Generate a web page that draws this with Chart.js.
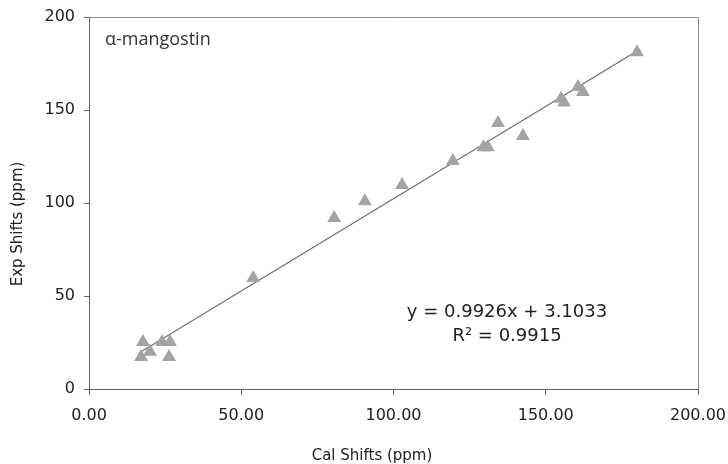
<!DOCTYPE html>
<html>
<head>
<meta charset="utf-8">
<script src="https://cdn.jsdelivr.net/npm/chart.js@4.4.1/dist/chart.umd.min.js"></script>
<style>
html,body{margin:0;padding:0;background:#fff;}
#wrap{width:728px;height:464px;position:relative;}
</style>
</head>
<body>
<div id="wrap"><canvas id="c" width="728" height="464"></canvas></div>
<script>
// Data
const calShifts = [17.1, 17.7, 20.0, 24.0, 26.6, 26.3, 53.9, 80.5, 90.6, 102.8, 119.5, 129.5, 131.0, 134.3, 142.5, 155.0, 156.0, 160.6, 162.2, 180.0];
const expShifts = [17.2, 25.3, 20.0, 25.3, 25.3, 17.2, 59.7, 92.0, 101.0, 109.7, 122.6, 130.0, 130.0, 143.0, 136.0, 156.0, 154.0, 162.4, 159.7, 181.0];
const xTicks = [0, 50, 100, 150, 200];
const yTicks = [0, 50, 100, 150, 200];
const fitSlope = 0.9926;
const fitIntercept = 3.1033;
const seriesLabel = 'α-mangostin';
const eqLine1 = 'y = 0.9926x + 3.1033';
const eqLine2 = 'R² = 0.9915';
const xTitle = 'Cal Shifts (ppm)';
const yTitle = 'Exp Shifts (ppm)';

const pts = calShifts.map((x, i) => ({x: x, y: expShifts[i]}));
const xMin = Math.min(...calShifts), xMax = Math.max(...calShifts);
const trend = [{x: xMin, y: fitSlope * xMin + fitIntercept}, {x: xMax, y: fitSlope * xMax + fitIntercept}];

const boxPlugin = {
  id: 'box',
  afterDraw(chart) {
    const ctx = chart.ctx, a = chart.chartArea;
    ctx.save();
    ctx.strokeStyle = '#8c8c8c';
    ctx.lineWidth = 1;
    ctx.beginPath();
    ctx.moveTo(a.left, a.top + 0.5);
    ctx.lineTo(a.right + 0.5, a.top + 0.5);
    ctx.lineTo(a.right + 0.5, a.bottom);
    ctx.stroke();
    // series label
    ctx.fillStyle = '#333';
    ctx.font = '18px "Open Sans", "Liberation Sans", sans-serif';
    ctx.textBaseline = 'middle';
    ctx.textAlign = 'left';
    ctx.fillText(seriesLabel, a.left + 16, a.top + 23);
    // equation
    ctx.font = '18px "DejaVu Sans", sans-serif';
    ctx.textAlign = 'center';
    ctx.fillStyle = '#222';
    ctx.fillText(eqLine1, a.left + 418, a.top + 295);
    ctx.fillText(eqLine2, a.left + 418, a.top + 319);
    // axis titles
    ctx.font = '15px "DejaVu Sans", sans-serif';
    ctx.fillStyle = '#222';
    ctx.fillText(xTitle, a.left + 283, chart.height - 8);
    ctx.save();
    ctx.translate(18, a.top + 207);
    ctx.rotate(-Math.PI / 2);
    ctx.fillText(yTitle, 0, 0);
    ctx.restore();
    ctx.restore();
  }
};

new Chart(document.getElementById('c'), {
  type: 'scatter',
  data: {
    datasets: [
      {
        data: trend,
        type: 'line',
        showLine: true,
        borderColor: '#6e6e6e',
        borderWidth: 1.2,
        pointRadius: 0,
        fill: false,
        order: 2
      },
      {
        data: pts,
        pointStyle: 'triangle',
        pointRadius: 8,
        pointBackgroundColor: '#a3a3a3',
        pointBorderColor: '#a3a3a3',
        pointBorderWidth: 0,
        order: 1
      }
    ]
  },
  options: {
    responsive: false,
    animation: false,
    devicePixelRatio: 1,
    layout: {padding: {left: 0, right: 30, top: 17, bottom: 0}},
    plugins: {legend: {display: false}, tooltip: {enabled: false}},
    scales: {
      x: {
        type: 'linear', min: 0, max: 200,
        afterBuildTicks: s => { s.ticks = xTicks.map(v => ({value: v})); },
        afterFit: s => { s.height = 75; s.paddingLeft = 0; s.paddingRight = 0; },
        ticks: {
          padding: 11,
          color: '#222',
          font: {family: '"DejaVu Sans", sans-serif', size: 16},
          callback: v => Number(v).toFixed(2),
          maxRotation: 0
        },
        grid: {drawOnChartArea: false, drawTicks: true, tickLength: 6, color: '#606060'},
        border: {display: true, color: '#606060', width: 1},
        title: {display: false}
      },
      y: {
        type: 'linear', min: 0, max: 200,
        afterBuildTicks: s => { s.ticks = yTicks.map(v => ({value: v})); },
        afterFit: s => { s.width = 89; s.paddingTop = 0; s.paddingBottom = 0; },
        ticks: {
          padding: 9,
          color: '#222',
          font: {family: '"DejaVu Sans", sans-serif', size: 16}
        },
        grid: {drawOnChartArea: false, drawTicks: true, tickLength: 5, color: '#606060'},
        border: {display: true, color: '#606060', width: 1},
        title: {display: false}
      }
    }
  },
  plugins: [boxPlugin]
});
</script>
</body>
</html>
